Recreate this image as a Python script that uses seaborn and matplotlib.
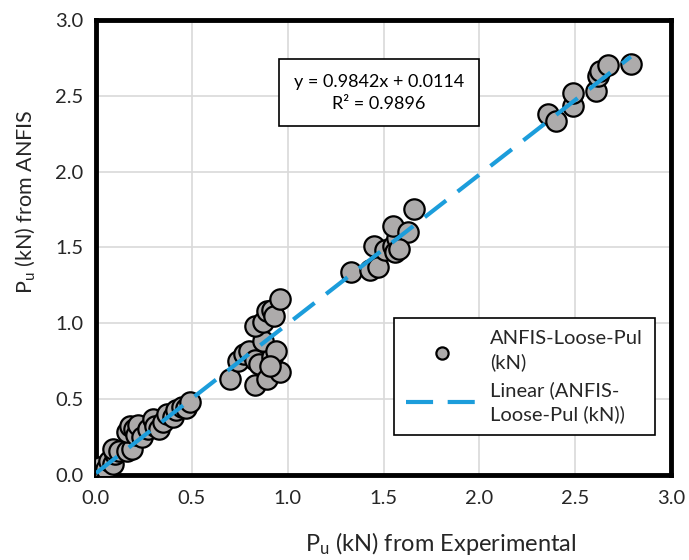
import matplotlib
matplotlib.use("Agg")
import matplotlib.pyplot as plt
import seaborn as sns
import pandas as pd
import numpy as np

# ---- data ----
x_exp = [0.00, 0.01, 0.03, 0.02, 0.05, 0.07, 0.09, 0.10, 0.09, 0.12, 0.16, 0.19, 0.16, 0.18,
         0.20, 0.21, 0.22, 0.24, 0.27, 0.30, 0.31, 0.33, 0.35, 0.37, 0.40, 0.42, 0.45, 0.47, 0.49,
         0.70, 0.74, 0.77, 0.80, 0.83, 0.85, 0.83, 0.89, 0.96, 0.92, 0.87, 0.94, 0.83, 0.87,
         0.89, 0.92, 0.93, 0.96, 0.91,
         1.33, 1.43, 1.47, 1.45, 1.51, 1.55, 1.56, 1.57, 1.55, 1.63, 1.66, 1.58,
         2.36, 2.40, 2.49, 2.49, 2.61, 2.62, 2.63, 2.67, 2.79]
y_anfis = [0.03, 0.02, 0.01, 0.05, 0.04, 0.09, 0.07, 0.14, 0.17, 0.16, 0.16, 0.17, 0.28, 0.32,
           0.30, 0.26, 0.33, 0.25, 0.30, 0.37, 0.32, 0.30, 0.35, 0.40, 0.38, 0.43, 0.45, 0.44, 0.48,
           0.63, 0.75, 0.80, 0.82, 0.76, 0.73, 0.59, 0.63, 0.68, 0.78, 0.88, 0.82, 0.98, 1.01,
           1.08, 1.09, 1.05, 1.16, 0.72,
           1.34, 1.35, 1.37, 1.51, 1.48, 1.51, 1.47, 1.56, 1.64, 1.60, 1.75, 1.49,
           2.38, 2.33, 2.43, 2.52, 2.53, 2.63, 2.66, 2.70, 2.71]
slope = 0.9842
intercept = 0.0114
r_squared = 0.9896
ticks = [0.0, 0.5, 1.0, 1.5, 2.0, 2.5, 3.0]
series_name = "ANFIS-Loose-Pul\n(kN)"
trend_name = "Linear (ANFIS-\nLoose-Pul (kN))"

df = pd.DataFrame({"x": x_exp, "y": y_anfis})

sns.set_theme(style="white")
plt.rcParams["font.family"] = ["Lato", "DejaVu Sans"]
plt.rcParams["mathtext.default"] = "regular"

fig = plt.figure(figsize=(6.89, 5.6), dpi=100)
ax = fig.add_axes([0.1393, 0.152, 0.8347, 0.8125])

sns.scatterplot(data=df, x="x", y="y", ax=ax, s=215, color="#ADABAB",
                edgecolor="black", linewidth=1.6, zorder=3, label=series_name)

xl = np.array([min(x_exp), max(x_exp)])
ax.plot(xl, slope * xl + intercept, color="#1C9DDB", lw=3, dashes=(6.5, 3.5),
        zorder=4, label=trend_name, solid_capstyle="butt", dash_capstyle="butt")

ax.set_xlim(0, 3.0)
ax.set_ylim(0, 3.0)
ax.set_xticks(ticks)
ax.set_yticks(ticks)
ax.set_xticklabels([f"{t:.1f}" for t in ticks])
ax.set_yticklabels([f"{t:.1f}" for t in ticks])
ax.tick_params(axis="both", labelsize=14.5, colors="#262626", length=0)
ax.tick_params(axis="x", pad=11)
ax.tick_params(axis="y", pad=9)
ax.grid(True, color="#D9D9D9", lw=1.2, zorder=0)
ax.set_axisbelow(True)
for s in ax.spines.values():
    s.set_color("black")
    s.set_linewidth(3.5)

ax.set_xlabel("P$_u$ (kN) from Experimental", fontsize=17, color="#262626")
ax.set_ylabel("P$_u$ (kN) from ANFIS", fontsize=15.5, color="#262626")
ax.xaxis.set_label_coords(0.6, -0.122)
ax.yaxis.set_label_coords(-0.103, 0.6)

ax.text(1.476, 2.52, f"y = {slope}x + {intercept}\nR² = {r_squared}", fontsize=13,
        ha="center", va="center", linespacing=1.45, color="black", zorder=5,
        bbox=dict(boxstyle="square,pad=0.8", fc="white", ec="black", lw=1.2))

leg = ax.legend(loc="lower left", bbox_to_anchor=(0.50, 0.065), fontsize=14.5,
                frameon=True, fancybox=False, edgecolor="black", framealpha=1,
                markerscale=0.6, handlelength=3.6, labelspacing=0.5,
                borderpad=0.6, handletextpad=0.6)
for t in leg.get_texts():
    t.set_linespacing(1.4)
leg.get_frame().set_linewidth(1.2)
leg.set_zorder(6)

fig.savefig("out.png", dpi=100)
